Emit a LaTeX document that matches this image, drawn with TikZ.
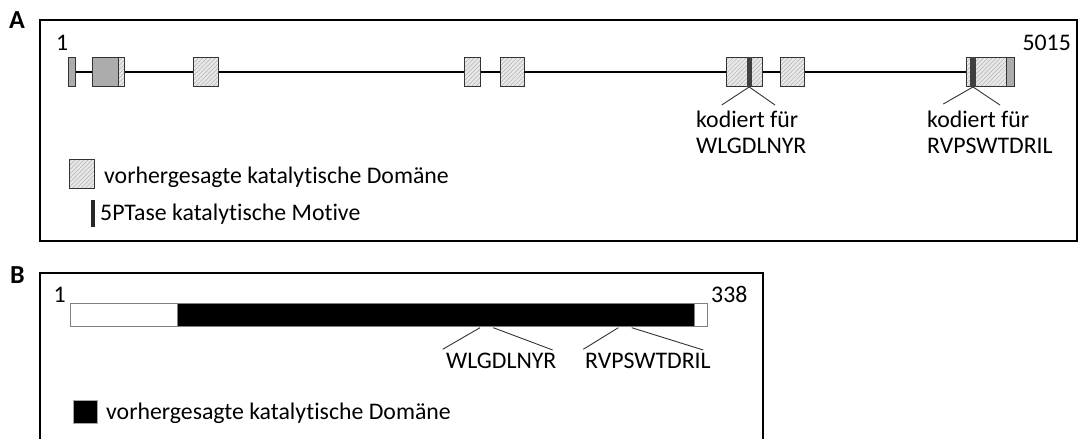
\documentclass[tikz,border=0pt]{standalone}
\usepackage{fontspec}
\setmainfont[Ligatures=NoCommon]{Carlito}
\usetikzlibrary{patterns.meta}
\tikzset{panel/.style={draw,line width=1.8pt},exon/.style={draw=black!80,line width=0.9pt,minimum height=29.5pt,inner sep=0pt},hatch/.style={preaction={fill=gray!18},pattern={Lines[angle=45,distance=3pt,line width=0.5pt]},pattern color=gray!60},darkex/.style={fill=gray!65},motif/.style={fill=black!75,inner sep=0pt,minimum height=29.5pt},intron/.style={line width=2.4pt},pointer/.style={line width=0.9pt,black!80},bar/.style={draw=gray,line width=1pt,minimum height=22.7pt,inner sep=0pt},txt/.style={inner sep=0pt,anchor=base west},panellabel/.style={inner sep=0pt,anchor=base west,font=\fontsize{26}{30}\selectfont\bfseries}}

\begin{document}
\begin{tikzpicture}[x=1pt,y=-1pt,font=\fontsize{23.8}{28}\selectfont]
\useasboundingbox (0,0) rectangle (1080,439);
% A: gene
\node[panellabel] (labA) at (9,28) {A};
\draw[panel] (40,20) rectangle (1077,241);
\node[txt] (startA) at (56,50) {1};
\node[txt,anchor=base east] (endA) at (1071,50) {5015};
\node[exon,darkex,minimum width=7.4pt] (e1) at (72,72) {};
\node[exon,darkex,minimum width=25.6pt] (e2) at (105.5,72) {};
\node[exon,hatch,minimum width=6pt] (e2b) at (121.3,72) {};
\node[exon,hatch,minimum width=25pt] (e3) at (205.8,72) {};
\node[exon,hatch,minimum width=15.7pt] (e4) at (472.2,72) {};
\node[exon,hatch,minimum width=24pt] (e5) at (512,72) {};
\node[exon,hatch,minimum width=35.6pt] (e6) at (744.5,72) {};
\node[motif,minimum width=5pt] (m1) at (749.2,72) {};
\node[exon,hatch,minimum width=23.6pt] (e7) at (792.5,72) {};
\node[exon,hatch,minimum width=47.6pt] (e8) at (990.5,72) {};
\node[exon,darkex,minimum width=8.3pt] (e8b) at (1010.2,72) {};
\node[motif,minimum width=6pt] (m2) at (973,72) {};
\draw[intron] (e1)--(e2) (e2b)--(e3)--(e4)--(e5)--(e6)--(e7)--(e8);
\node[txt] (k1) at (696,127) {kodiert für};
\node[txt] (w1) at (696,153) {WLGDLNYR};
\node[txt] (k2) at (927,127) {kodiert für};
\node[txt] (r1) at (927,153) {RVPSWTDRIL};
\coordinate (k1l) at (721.7,105);
\coordinate (k1r) at (775,105);
\coordinate (k2l) at (943.3,104);
\coordinate (k2r) at (1000,105);
\draw[pointer] (k1l)--(m1.south)--(k1r);
\draw[pointer] (k2l)--(m2.south)--(k2r);
% legend A
\node[exon,hatch,minimum width=25pt,minimum height=29pt] (legdom) at (81.8,173.8) {};
\node[txt] (legdomtxt) at (104,183) {vorhergesagte katalytische Domäne};
\node[motif,fill=black!85,minimum width=4pt,minimum height=27pt] (legmot) at (93,213.5) {};
\node[txt] (legmottxt) at (100,220) {5PTase katalytische Motive};
% B: protein
\node[panellabel] (labB) at (10,283) {B};
\draw[panel] (40,445)--(40,272.7)--(763,272.7)--(763,445);
\node[txt,anchor=base east] (startB) at (66,302) {1};
\node[txt] (endB) at (711,302) {338};
\node[bar,fill=white,minimum width=106.6pt] (b1) at (124,314.65) {};
\node[bar,fill=black,minimum width=517pt] (b2) at (435.8,314.65) {};
\node[bar,fill=white,minimum width=13pt] (b3) at (700.8,314.65) {};
\node[txt] (w2) at (446,368) {WLGDLNYR};
\node[txt] (r2) at (585,368) {RVPSWTDRIL};
\coordinate (w2a) at (480,327.7);
\coordinate (w2b) at (493.3,327.7);
\coordinate (w2l) at (442.7,349.3);
\coordinate (w2r) at (552.7,350);
\coordinate (r2a) at (618.3,327.7);
\coordinate (r2b) at (631.7,327.7);
\coordinate (r2l) at (583.3,349.3);
\coordinate (r2r) at (703.3,350);
\draw[pointer] (w2l)--(w2a) (w2b)--(w2r);
\draw[pointer] (r2l)--(r2a) (r2b)--(r2r);
% legend B
\node[bar,draw=gray!70,fill=black,minimum width=24pt,minimum height=23.3pt] (legB) at (85.3,411.7) {};
\node[txt] (legBtxt) at (106,419) {vorhergesagte katalytische Domäne};
\end{tikzpicture}
\end{document}
